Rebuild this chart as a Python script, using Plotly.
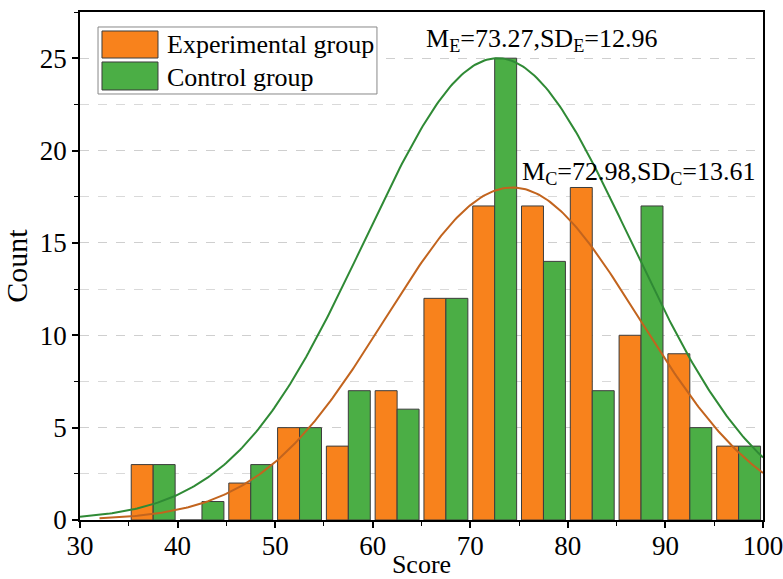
import numpy as np
import plotly.graph_objects as go

# ---- data ----
bin_centers = [37.5, 42.5, 47.5, 52.5, 57.5, 62.5, 67.5, 72.5, 77.5, 82.5, 87.5, 92.5, 97.5]
experimental_counts = [3, 0, 2, 5, 4, 7, 12, 17, 17, 18, 10, 9, 4]
control_counts = [3, 1, 3, 5, 7, 6, 12, 25, 14, 7, 17, 5, 4]

# fitted normal curves (as drawn): mean, sd, peak height, x-span
exp_fit = dict(mean=74.3, sd=13.0, peak=18.0, start=32.0, end=100.0)
ctl_fit = dict(mean=72.8, sd=13.6, peak=25.0, start=30.0, end=100.0)

label_e = "M<sub>E</sub>=73.27,SD<sub>E</sub>=12.96"
label_c = "M<sub>C</sub>=72.98,SD<sub>C</sub>=13.61"
series_names = ["Experimental group", "Control group"]

ORANGE = "#F8821C"
GREEN = "#4BAE45"
ORANGE_LINE = "#C2641E"
GREEN_LINE = "#2F8A35"
FONT = "Liberation Serif, Times New Roman, serif"


def curve(p):
    xs = np.linspace(p["start"], p["end"], 300)
    ys = p["peak"] * np.exp(-((xs - p["mean"]) ** 2) / (2 * p["sd"] ** 2))
    return xs, ys


fig = go.Figure()
fig.add_trace(go.Bar(x=bin_centers, y=experimental_counts, name=series_names[0],
                     marker=dict(color=ORANGE, line=dict(color="#3c3c3c", width=1))))
fig.add_trace(go.Bar(x=bin_centers, y=control_counts, name=series_names[1],
                     marker=dict(color=GREEN, line=dict(color="#3c3c3c", width=1))))

xe, ye = curve(exp_fit)
xc, yc = curve(ctl_fit)
fig.add_trace(go.Scatter(x=xc, y=yc, mode="lines", line=dict(color=GREEN_LINE, width=2),
                         showlegend=False, hoverinfo="skip"))
fig.add_trace(go.Scatter(x=xe, y=ye, mode="lines", line=dict(color=ORANGE_LINE, width=2),
                         showlegend=False, hoverinfo="skip"))

# manual legend (large swatches like the reference)
shapes = [
    dict(type="rect", xref="paper", yref="paper", x0=0.0264, x1=0.4348, y0=0.8386, y1=0.9705,
         line=dict(color="#888888", width=1), fillcolor="white", layer="above"),
    dict(type="rect", xref="paper", yref="paper", x0=0.0322, x1=0.1142, y0=0.9094, y1=0.9626,
         line=dict(color="#3c3c3c", width=1), fillcolor=ORANGE, layer="above"),
    dict(type="rect", xref="paper", yref="paper", x0=0.0322, x1=0.1142, y0=0.8465, y1=0.9016,
         line=dict(color="#3c3c3c", width=1), fillcolor=GREEN, layer="above"),
]
annotations = [
    dict(xref="paper", yref="paper", x=0.1245, y=0.937, text=series_names[0], showarrow=False,
         xanchor="left", yanchor="middle", font=dict(family=FONT, size=26, color="black")),
    dict(xref="paper", yref="paper", x=0.1245, y=0.872, text=series_names[1], showarrow=False,
         xanchor="left", yanchor="middle", font=dict(family=FONT, size=26, color="black")),
    dict(x=77.3, y=26.0, text=label_e, showarrow=False, xanchor="center", yanchor="middle",
         font=dict(family=FONT, size=26, color="black")),
    dict(x=87.2, y=18.8, text=label_c, showarrow=False, xanchor="center", yanchor="middle",
         font=dict(family=FONT, size=26, color="black")),
]

fig.update_layout(
    width=783, height=579,
    margin=dict(l=80, r=20, t=12, b=59),
    paper_bgcolor="white", plot_bgcolor="white",
    barmode="group", bargap=0.1, bargroupgap=0,
    showlegend=False,
    font=dict(family=FONT, size=26, color="black"),
    shapes=shapes, annotations=annotations,
)
fig.update_xaxes(
    range=[30, 100], tickmode="linear", tick0=30, dtick=10,
    showline=True, linecolor="black", linewidth=1.5, mirror=True,
    ticks="outside", ticklen=6, tickwidth=1.5, tickcolor="black",
    minor=dict(ticks="outside", ticklen=4, tickwidth=1, tickcolor="black", dtick=5, showgrid=False),
    showgrid=False, zeroline=False, automargin=False,
    ticklabeloverflow="allow", ticklabelstandoff=-5,
    title=dict(text="Score", font=dict(size=26), standoff=8),
    tickfont=dict(size=27),
)
fig.update_yaxes(
    range=[0, 27.5], tickmode="linear", tick0=0, dtick=5,
    showline=True, linecolor="black", linewidth=1.5, mirror=True,
    ticks="outside", ticklen=6, tickwidth=1.5, tickcolor="black",
    showgrid=True, gridcolor="#cfcfcf", griddash="dash", gridwidth=1,
    minor=dict(ticks="outside", ticklen=4, tickwidth=1, tickcolor="black", dtick=2.5,
               showgrid=True, gridcolor="#d9d9d9", griddash="dash", gridwidth=1),
    zeroline=False, automargin=False,
    title=dict(text="Count", font=dict(size=30), standoff=4),
    tickfont=dict(size=27),
)

fig.write_html("out.html", config={"displayModeBar": False},
               post_script="document.body.style.margin='0';")
